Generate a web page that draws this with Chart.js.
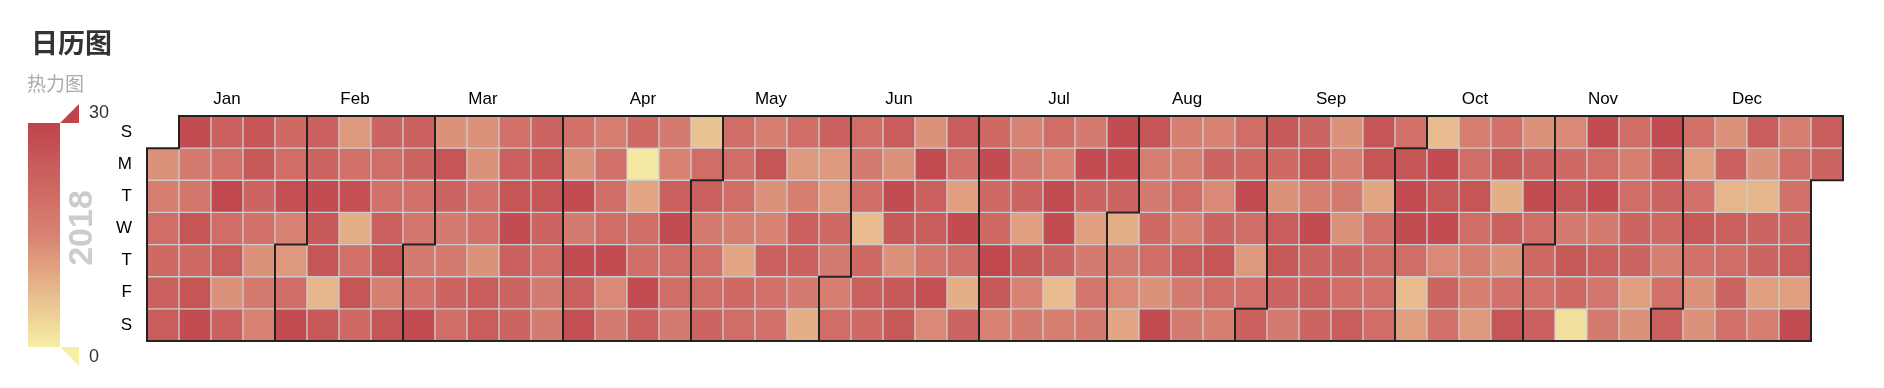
<!DOCTYPE html>
<html>
<head>
<meta charset="utf-8">
<title>日历图</title>
<script src="https://cdn.jsdelivr.net/npm/chart.js@4.4.1/dist/chart.umd.min.js"></script>
<style>
    html, body { margin: 0; padding: 0; background: #fff; }
    #wrap { width: 1884px; height: 388px; }
</style>
</head>
<body>
<div id="wrap"><canvas id="calendarChart" width="1884" height="388"></canvas></div>
<script>
// Calendar data for 2018, one array per month (value per day)
const year = 2018;
const monthNames = ['Jan', 'Feb', 'Mar', 'Apr', 'May', 'Jun', 'Jul', 'Aug', 'Sep', 'Oct', 'Nov', 'Dec'];
const dayNames = ['S', 'M', 'T', 'W', 'T', 'F', 'S'];

const jan = [13, 16, 20, 21, 23, 24, 28, 17, 18, 26, 21, 26, 28, 23, 19, 29, 20, 24, 13, 23, 26, 25, 22, 19, 13, 17, 15, 21, 20, 27, 15];
const feb = [12, 20, 28, 23, 22, 28, 25, 26, 8, 25, 12, 19, 27, 9, 19, 26, 21, 22, 20, 19, 23, 26, 16, 26, 23, 22, 19, 18];
const mar = [17, 19, 28, 13, 26, 22, 17, 17, 22, 20, 13, 13, 19, 19, 13, 24, 24, 19, 23, 26, 28, 23, 22, 22, 22, 25, 26, 22, 20, 17, 17];
const apr = [19, 13, 28, 17, 28, 23, 27, 16, 19, 20, 20, 28, 14, 17, 21, 1, 10, 20, 20, 28, 23, 17, 15, 23, 28, 20, 20, 17, 6, 20];
const may = [23, 17, 19, 20, 22, 20, 20, 20, 16, 10, 21, 20, 16, 26, 13, 15, 23, 19, 19, 20, 12, 16, 23, 23, 17, 9, 23, 12, 12, 21, 17];
const jun = [16, 20, 20, 17, 20, 7, 21, 23, 21, 24, 13, 28, 25, 13, 25, 25, 13, 28, 23, 24, 18, 27, 14, 24, 19, 11, 28, 20, 9, 22];
const jul = [21, 28, 21, 21, 29, 25, 15, 15, 17, 22, 11, 25, 15, 17, 20, 15, 28, 28, 22, 7, 16, 17, 28, 22, 11, 17, 18, 17, 28, 28, 22];
const aug = [9, 17, 14, 10, 26, 16, 17, 21, 20, 13, 28, 16, 16, 20, 16, 24, 17, 17, 15, 22, 14, 22, 26, 20, 16, 20, 21, 28, 20, 12, 19];
const sep = [23, 25, 21, 13, 24, 25, 22, 17, 22, 26, 16, 28, 22, 23, 22, 13, 16, 17, 13, 22, 20, 24, 26, 26, 10, 19, 20, 19, 20, 19];
const oct = [26, 28, 28, 20, 7, 11, 7, 28, 25, 28, 14, 22, 19, 16, 20, 26, 20, 16, 16, 12, 19, 25, 9, 23, 13, 19, 26, 13, 22, 28, 20];
const nov = [21, 19, 23, 14, 21, 25, 17, 25, 21, 2, 28, 20, 28, 17, 23, 18, 17, 20, 16, 20, 22, 22, 11, 13, 28, 25, 22, 21, 16, 19];
const dec = [23, 19, 11, 19, 25, 19, 13, 13, 13, 23, 8, 23, 20, 22, 19, 24, 13, 8, 22, 22, 11, 16, 16, 20, 19, 22, 24, 11, 28, 24, 22];

const months = [jan, feb, mar, apr, may, jun, jul, aug, sep, oct, nov, dec];
const visualMin = 0;
const visualMax = 30;
const rangeColors = ['#f6efa6', '#d88273', '#bf444c'];

// colour for a value, interpolated over the visual map stops
function hexToRgb(hex) {
    const n = parseInt(hex.slice(1), 16);
    return [(n >> 16) & 255, (n >> 8) & 255, n & 255];
}
function valueColor(v) {
    let t = (v - visualMin) / (visualMax - visualMin);
    t = Math.max(0, Math.min(1, t));
    const seg = t * (rangeColors.length - 1);
    const i = Math.min(Math.floor(seg), rangeColors.length - 2);
    const f = seg - i;
    const a = hexToRgb(rangeColors[i]);
    const b = hexToRgb(rangeColors[i + 1]);
    const c = a.map((x, k) => Math.round(x + (b[k] - x) * f));
    return 'rgb(' + c.join(',') + ')';
}

// place every day into its week column / weekday row
const weekCount = 53;
const cells = dayNames.map(() => new Array(weekCount).fill(null));
const firstDow = new Date(year, 0, 1).getDay();
const monthStarts = [];
const monthRanges = [];
let dayIndex = 0;
months.forEach((vals, m) => {
    let firstCol = null, lastCol = null;
    vals.forEach((v, i) => {
        const p = dayIndex + firstDow;
        const col = Math.floor(p / 7);
        const row = p % 7;
        if (i === 0) {
            monthStarts.push({ col: col, row: row });
            firstCol = col;
        }
        lastCol = col;
        cells[row][col] = v;
        dayIndex++;
    });
    monthRanges.push({ name: monthNames[m], first: firstCol, last: lastCol });
});
const pEnd = dayIndex + firstDow;
const yearEnd = { col: Math.floor(pEnd / 7), row: pEnd % 7 };

const weekLabels = [];
for (let i = 0; i < weekCount; i++) weekLabels.push(i);

const datasets = dayNames.map((d, r) => ({
    label: d,
    data: cells[r].map(v => v === null ? null : [r, r + 1]),
    backgroundColor: cells[r].map(v => v === null ? 'rgba(0,0,0,0)' : valueColor(v)),
    borderColor: '#cccccc',
    borderWidth: 1,
    borderSkipped: false,
    grouped: false,
    categoryPercentage: 1,
    barPercentage: 1
}));

// month split lines, labels, visual map and titles
const calendarDecor = {
    id: 'calendarDecor',
    afterDatasetsDraw(chart) {
        const ctx = chart.ctx;
        const x = chart.scales.x;
        const y = chart.scales.y;
        const cellW = (chart.chartArea.right - chart.chartArea.left) / weekCount;
        const colEdge = c => c < weekCount ? x.getPixelForValue(c) - cellW / 2 : x.getPixelForValue(weekCount - 1) + cellW / 2;
        const rowEdge = r => y.getPixelForValue(r);

        function boundary(s) {
            ctx.beginPath();
            if (s.row > 0) {
                ctx.moveTo(colEdge(s.col + 1), rowEdge(0));
                ctx.lineTo(colEdge(s.col + 1), rowEdge(s.row));
                ctx.lineTo(colEdge(s.col), rowEdge(s.row));
                ctx.lineTo(colEdge(s.col), rowEdge(7));
            } else {
                ctx.moveTo(colEdge(s.col), rowEdge(0));
                ctx.lineTo(colEdge(s.col), rowEdge(7));
            }
            ctx.stroke();
        }

        ctx.save();
        ctx.strokeStyle = '#222';
        ctx.lineWidth = 2;
        ctx.lineCap = 'square';
        monthStarts.forEach(boundary);
        boundary(yearEnd);
        const s0 = monthStarts[0];
        ctx.beginPath();
        ctx.moveTo(colEdge(s0.col + (s0.row > 0 ? 1 : 0)), rowEdge(0));
        ctx.lineTo(colEdge(yearEnd.col + (yearEnd.row > 0 ? 1 : 0)), rowEdge(0));
        ctx.moveTo(colEdge(s0.col), rowEdge(7));
        ctx.lineTo(colEdge(yearEnd.col), rowEdge(7));
        ctx.stroke();

        // month labels
        ctx.fillStyle = '#000';
        ctx.font = '17px "Liberation Sans", Arial, sans-serif';
        ctx.textAlign = 'center';
        ctx.textBaseline = 'middle';
        monthRanges.forEach(m => {
            const cx = (colEdge(m.first) + colEdge(m.last + 1)) / 2;
            ctx.fillText(m.name, cx, rowEdge(0) - 17);
        });

        // day labels
        ctx.textAlign = 'right';
        dayNames.forEach((d, r) => {
            ctx.fillText(d, colEdge(0) - 15, (rowEdge(r) + rowEdge(r + 1)) / 2);
        });

        // year label
        ctx.save();
        ctx.translate(83, 228);
        ctx.rotate(-Math.PI / 2);
        ctx.fillStyle = '#ccc';
        ctx.font = 'bold 34px "Liberation Sans", Arial, sans-serif';
        ctx.textAlign = 'center';
        ctx.fillText(String(year), 0, 0);
        ctx.restore();

        // visual map
        const barL = 28, barR = 60, barT = 123, barB = 347;
        const grad = ctx.createLinearGradient(0, barT, 0, barB);
        for (let i = 0; i <= 10; i++) {
            grad.addColorStop(i / 10, valueColor(visualMax - (visualMax - visualMin) * i / 10));
        }
        ctx.fillStyle = grad;
        ctx.fillRect(barL, barT, barR - barL, barB - barT);
        ctx.fillStyle = valueColor(visualMax);
        ctx.beginPath();
        ctx.moveTo(barR, barT);
        ctx.lineTo(barR + 19, barT - 19);
        ctx.lineTo(barR + 19, barT);
        ctx.closePath();
        ctx.fill();
        ctx.fillStyle = valueColor(visualMin);
        ctx.beginPath();
        ctx.moveTo(barR, barB);
        ctx.lineTo(barR + 19, barB);
        ctx.lineTo(barR + 19, barB + 19);
        ctx.closePath();
        ctx.fill();
        ctx.fillStyle = '#333';
        ctx.font = '18px "Liberation Sans", Arial, sans-serif';
        ctx.textAlign = 'left';
        ctx.fillText(String(visualMax), 89, 113);
        ctx.fillText(String(visualMin), 89, 357);

        // title and subtitle
        ctx.fillStyle = '#333';
        ctx.font = 'bold 27px "Noto Sans CJK SC", sans-serif';
        ctx.fillText('日历图', 31, 43);
        ctx.fillStyle = '#aaa';
        ctx.font = '19px "Noto Sans CJK SC", sans-serif';
        ctx.fillText('热力图', 27, 84);
        ctx.restore();
    }
};

const ctx = document.getElementById('calendarChart').getContext('2d');
const calendarChart = new Chart(ctx, {
    type: 'bar',
    data: { labels: weekLabels, datasets: datasets },
    options: {
        responsive: false,
        animation: false,
        devicePixelRatio: 1,
        layout: { padding: { left: 147, right: 41, top: 116, bottom: 47 } },
        plugins: { legend: { display: false }, tooltip: { enabled: false } },
        scales: {
            x: { type: 'category', display: false, offset: true },
            y: { type: 'linear', display: false, min: 0, max: 7, reverse: true }
        }
    },
    plugins: [calendarDecor]
});
</script>
</body>
</html>
